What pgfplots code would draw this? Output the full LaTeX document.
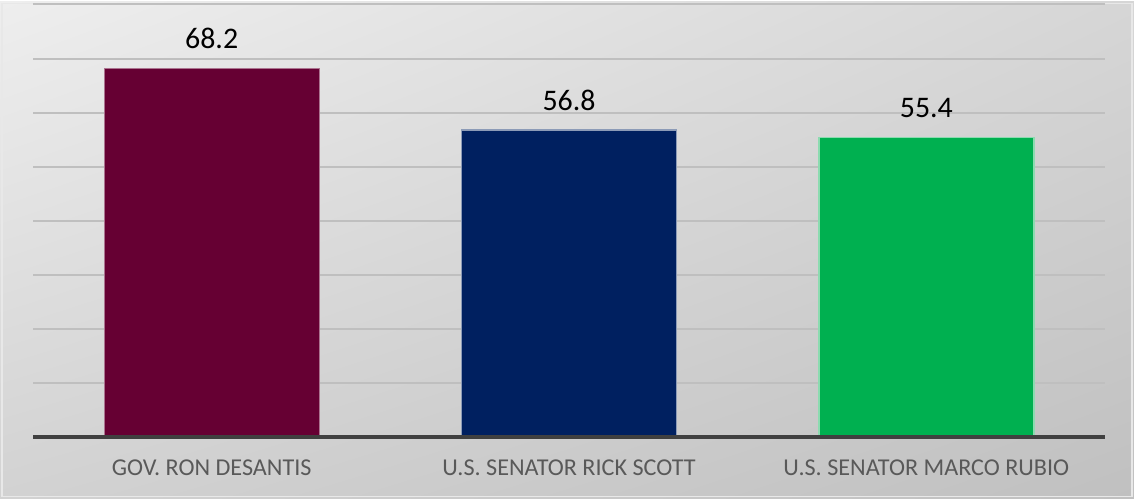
\documentclass[border=0pt]{standalone}
\usepackage{pgfplots}
\pgfplotsset{compat=1.18}
\usetikzlibrary{shadings}
\usepackage{fontspec}
\setmainfont{Carlito}
\definecolor{maroon}{HTML}{660033}
\definecolor{navy}{HTML}{002060}
\definecolor{grn}{HTML}{00B050}
\definecolor{gridc}{HTML}{BFBFBF}
\definecolor{basec}{HTML}{404040}
\definecolor{tickc}{HTML}{595959}
\definecolor{bgul}{HTML}{EEEEEE}
\definecolor{bgur}{HTML}{D6D6D6}
\definecolor{bgll}{HTML}{D2D2D2}
\definecolor{bglr}{HTML}{C0C0C0}
\definecolor{bord}{HTML}{E8E8E8}
\begin{document}
\begin{tikzpicture}
\shade[upper left=bgul,upper right=bgur,lower left=bgll,lower right=bglr]
  (0,0) rectangle (850.5bp,372.75bp);
\draw[line width=1bp, draw=bord] (1.5bp,1.5bp) rectangle (849bp,371.25bp);
\begin{axis}[
  at={(24.75bp,45.75bp)}, anchor=south west,
  scale only axis, width=804bp, height=324.75bp,
  xmin=-0.5, xmax=2.5, ymin=0, ymax=80,
  xtick={0,1,2}, xticklabels={GOV. RON DESANTIS, U.S. SENATOR RICK SCOTT, U.S. SENATOR MARCO RUBIO},
  ytick={0,10,...,80}, yticklabels={},
  ymajorgrids, grid style={gridc, line width=1.5bp},
  major tick length=0pt,
  axis line style={draw=none},
  xticklabel style={font=\fontsize{18.2}{20}\selectfont, text=tickc, yshift=-13bp},
  /pgf/number format/assume math mode=true,
  ybar, bar width=161.25bp, bar shift=0pt,
  nodes near coords={\pgfmathprintnumber[fixed,precision=1,fixed zerofill]{\pgfplotspointmeta}},
  every node near coord/.append style={font=\fontsize{22.5}{24}\selectfont, text=black, yshift=11bp},
  clip=false,
]
\addplot[fill=maroon, draw=maroon!55!white, line width=1bp] coordinates {(0,68.2)};
\addplot[fill=navy, draw=navy!45!white, line width=1bp] coordinates {(1,56.8)};
\addplot[fill=grn, draw=grn!45!white, line width=1bp] coordinates {(2,55.4)};
\draw[basec, line width=3bp] (rel axis cs:0,0) -- (rel axis cs:1,0);
\end{axis}
\useasboundingbox (0,0) rectangle (850.5bp,372.75bp);
\end{tikzpicture}
\end{document}
